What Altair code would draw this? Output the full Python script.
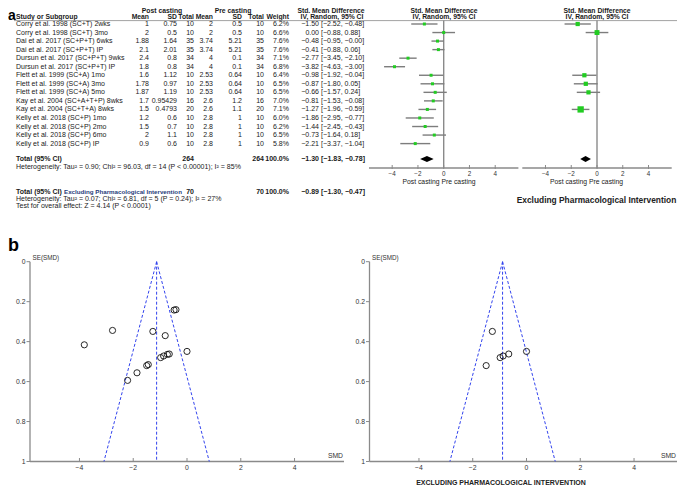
import altair as alt
import pandas as pd

# ---------------- data ----------------
studies = [
    "Corry et al. 1998 (SC+T) 2wks", "Corry et al. 1998 (SC+T) 3mo",
    "Dai et al. 2017 (SC+P+T) 6wks", "Dai et al. 2017 (SC+P+T) IP",
    "Dursun et al. 2017 (SC+P+T) 9wks", "Dursun et al. 2017 (SC+P+T) IP",
    "Flett et al. 1999 (SC+A) 1mo", "Flett et al. 1999 (SC+A) 3mo",
    "Flett et al. 1999 (SC+A) 5mo", "Kay et al. 2004 (SC+A+T+P) 8wks",
    "Kay et al. 2004 (SC+T+A) 8wks", "Kelly et al. 2018 (SC+P) 1mo",
    "Kelly et al. 2018 (SC+P) 2mo", "Kelly et al. 2018 (SC+P) 6mo",
    "Kelly et al. 2018 (SC+P) IP",
]
post_mean = [1, 2, 1.88, 2.1, 2.4, 1.8, 1.6, 1.78, 1.87, 1.7, 1.5, 1.2, 1.5, 2, 0.9]
post_sd = [0.75, 0.5, 1.64, 2.01, 0.8, 0.8, 1.12, 0.97, 1.19, 0.95429, 0.4793, 0.6, 0.7, 1.1, 0.6]
post_n = [10, 10, 35, 35, 34, 34, 10, 10, 10, 16, 20, 10, 10, 10, 10]
pre_mean = [2, 2, 3.74, 3.74, 4, 4, 2.53, 2.53, 2.53, 2.6, 2.6, 2.8, 2.8, 2.8, 2.8]
pre_sd = [0.5, 0.5, 5.21, 5.21, 0.1, 0.1, 0.64, 0.64, 0.64, 1.2, 1.1, 1, 1, 1, 1]
pre_n = [10, 10, 35, 35, 34, 34, 10, 10, 10, 16, 20, 10, 10, 10, 10]
weight = [6.2, 6.6, 7.6, 7.6, 7.1, 6.8, 6.4, 6.5, 6.5, 7.0, 7.1, 6.0, 6.2, 6.5, 5.8]
smd = [-1.50, 0.00, -0.48, -0.41, -2.77, -3.82, -0.98, -0.87, -0.66, -0.81, -1.27, -1.86, -1.44, -0.73, -2.21]
ci_lo = [-2.52, -0.88, -0.95, -0.88, -3.45, -4.63, -1.92, -1.80, -1.57, -1.53, -1.96, -2.95, -2.45, -1.64, -3.37]
ci_hi = [-0.48, 0.88, -0.00, 0.06, -2.10, -3.00, -0.04, 0.05, 0.24, -0.08, -0.59, -0.77, -0.43, 0.18, -1.04]
se_smd = [0.520, 0.449, 0.242, 0.240, 0.344, 0.416, 0.480, 0.472, 0.462, 0.370, 0.349, 0.556, 0.515, 0.464, 0.594]
no_pharm = [True, True, False, False, False, False, True, True, True, False, True, False, False, False, False]

total_n = [264, 70]
total_est = [-1.30, -0.89]
total_lo = [-1.83, -1.30]
total_hi = [-0.78, -0.47]
funnel_center = [-1.13, -0.89]   # pooled estimate used as funnel centre
axis_ticks = [-4, -2, 0, 2, 4]
se_ticks = [0, 0.2, 0.4, 0.6, 0.8, 1]

het_all = "Heterogeneity: Tau\u00b2 = 0.90; Chi\u00b2 = 96.03, df = 14 (P < 0.00001); I\u00b2 = 85%"
het_excl = "Heterogeneity: Tau\u00b2 = 0.07; Chi\u00b2 = 6.81, df = 5 (P = 0.24); I\u00b2 = 27%"
test_excl = "Test for overall effect: Z = 4.14 (P < 0.0001)"

# ---------------- layout / style ----------------
FONT = "Liberation Sans"
FS = 7.0
FSH = 6.8
TXT = "#1a1a1a"
GRAY = "#8a8a8a"
GREEN = "#22cc22"
BLUE = "#3344ee"


def px(x):
    return x - 8


def py(y):
    return y - 8


def m(v):
    return v.replace("-", "\u2212")


def fnum(v):
    return m(f"{v:g}")


def label(text, x, y, align="left", size=FS, bold=False, color=TXT, font=FONT):
    return alt.Chart(pd.DataFrame({"t": [text]})).mark_text(
        align=align, baseline="middle", font=font, fontSize=size,
        fontWeight="bold" if bold else "normal", color=color,
    ).encode(x=alt.value(px(x)), y=alt.value(py(y)), text="t:N")


ROW_TOP, ROW_BOT = 24.0, 143.6
ROW_SC = alt.Scale(domain=[0, 14], range=[py(ROW_TOP), py(ROW_BOT)])
ROW_STEP = (ROW_BOT - ROW_TOP) / 14
ROW_TOTAL = (159 - ROW_TOP) / ROW_STEP
ROW_EXCL = (192 - ROW_TOP) / ROW_STEP


def yrow(field="row"):
    return alt.Y(f"{field}:Q", scale=ROW_SC, axis=None)


tab = pd.DataFrame({
    "row": list(range(len(studies))),
    "study": studies,
    "pm": [fnum(v) for v in post_mean],
    "psd": [fnum(v) for v in post_sd],
    "pn": [str(v) for v in post_n],
    "qm": [fnum(v) for v in pre_mean],
    "qsd": [fnum(v) for v in pre_sd],
    "qn": [str(v) for v in pre_n],
    "w": [f"{v:.1f}%" for v in weight],
    "est": [m(f"{v:.2f}") for v in smd],
    "ci": [m(f"[{a:.2f}, {b:.2f}]") for a, b in zip(ci_lo, ci_hi)],
    "smd": smd, "lo": ci_lo, "hi": ci_hi, "se": se_smd, "excl": no_pharm,
})

tot = pd.DataFrame({
    "row": [ROW_TOTAL, ROW_EXCL],
    "n": [str(v) for v in total_n],
    "w": ["100.0%", "100.0%"],
    "est": [m(f"{v:.2f}") for v in total_est],
    "ci": [m(f"[{a:.2f}, {b:.2f}]") for a, b in zip(total_lo, total_hi)],
})


def col(data, field, x, align="right", bold=False):
    return alt.Chart(data).mark_text(
        align=align, baseline="middle", font=FONT, fontSize=FS,
        fontWeight="bold" if bold else "normal", color=TXT,
    ).encode(x=alt.value(px(x)), y=yrow(), text=f"{field}:N")


layers = []

# ---- panel labels ----
layers.append(label("a", 8, 15.5, size=14, bold=True, color="#000"))
layers.append(label("b", 8, 246, size=18, bold=True, color="#000"))

# ---- table header ----
H1, H2, HRULE = 11.2, 17.4, 20.6
EST_X, CI_X = 319, 321
layers += [
    label("Post casting", 162, H1, "center", size=FSH, bold=True),
    label("Pre casting", 233, H1, "center", size=FSH, bold=True),
    label("Std. Mean Difference", 331, H1, "center", size=FSH, bold=True),
    label("Std. Mean Difference", 444, H1, "center", size=FSH, bold=True),
    label("Std. Mean Difference", 597, H1, "center", size=FSH, bold=True),
    label("Study or Subgroup", 16, H2, size=FSH, bold=True),
    label("Mean", 149, H2, "right", size=FSH, bold=True),
    label("SD", 177, H2, "right", size=FSH, bold=True),
    label("Total", 194, H2, "right", size=FSH, bold=True),
    label("Mean", 213, H2, "right", size=FSH, bold=True),
    label("SD", 242, H2, "right", size=FSH, bold=True),
    label("Total", 264, H2, "right", size=FSH, bold=True),
    label("Weight", 289, H2, "right", size=FSH, bold=True),
    label("IV, Random, 95% CI", 332, H2, "center", size=FSH, bold=True),
    label("IV, Random, 95% CI", 444, H2, "center", size=FSH, bold=True),
    label("IV, Random, 95% CI", 597, H2, "center", size=FSH, bold=True),
]
layers.append(
    alt.Chart(pd.DataFrame({"a": [0]})).mark_rule(color=GRAY, strokeWidth=0.8).encode(
        x=alt.value(px(14)), x2=alt.value(px(690)), y=alt.value(py(HRULE)))
)

# ---- table body ----
layers += [
    col(tab, "study", 16, "left"),
    col(tab, "pm", 149), col(tab, "psd", 177), col(tab, "pn", 194),
    col(tab, "qm", 213), col(tab, "qsd", 242), col(tab, "qn", 264),
    col(tab, "w", 289), col(tab, "est", EST_X), col(tab, "ci", CI_X, "left"),
]

# ---- totals ----
tot_all = tot.iloc[[0]]
tot_ex = tot.iloc[[1]]
layers += [
    label("Total (95% CI)", 16, 159, bold=True),
    col(tot_all, "n", 194, bold=True), col(tot, "n", 264, bold=True),
    col(tot, "w", 289, bold=True), col(tot, "est", EST_X, bold=True),
    col(tot, "ci", CI_X, "left", bold=True),
    label(het_all, 16, 166.5),
    label("Total (95% CI)", 16, 192, bold=True),
    label("Excluding Pharmacological Intervention", 64, 192, bold=True,
          color="#1f3c7a", size=6.2),
    col(tot_ex, "n", 194, bold=True),
    label(het_excl, 16, 199),
    label(test_excl, 16, 205.5),
]

# ---- forest plots ----
F1 = alt.Scale(domain=[-5.8, 5.8], range=[px(369), px(518.4)])
F2 = alt.Scale(domain=[-5.8, 5.8], range=[px(522.3), px(671.7)])
AXY = 168
EXCL_MARK = {0: 18, 1: 24, 6: 18, 7: 18, 8: 18, 10: 40}


def forest(scale, data, est, lo, hi, msize, post_x, pre_x):
    out = []
    dom = pd.DataFrame({"a": [-5.8], "b": [5.8], "z": [0]})
    out.append(alt.Chart(dom).mark_rule(color=GRAY, strokeWidth=1.4).encode(
        x=alt.X("z:Q", scale=scale, axis=None), y=alt.value(py(HRULE)), y2=alt.value(py(AXY))))
    out.append(alt.Chart(dom).mark_rule(color=GRAY, strokeWidth=1.3).encode(
        x=alt.X("a:Q", scale=scale, axis=None), x2="b:Q", y=alt.value(py(AXY))))
    tk = pd.DataFrame({"v": axis_ticks, "t": [m(str(v)) for v in axis_ticks]})
    out.append(alt.Chart(tk).mark_rule(color=GRAY, strokeWidth=1).encode(
        x=alt.X("v:Q", scale=scale, axis=None), y=alt.value(py(AXY - 3)), y2=alt.value(py(AXY + 1))))
    out.append(alt.Chart(tk).mark_text(font=FONT, fontSize=6.3, color="#333", baseline="middle").encode(
        x=alt.X("v:Q", scale=scale, axis=None), y=alt.value(py(173.5)), text="t:N"))
    out.append(label("Post casting", post_x, 181.5, "right", size=6.8))
    out.append(label("Pre casting", pre_x, 181.5, "left", size=6.8))
    out.append(alt.Chart(data).mark_rule(color="#7d7d7d", strokeWidth=1.4).encode(
        x=alt.X("lo:Q", scale=scale, axis=None), x2="hi:Q", y=yrow()))
    if msize is None:
        out.append(alt.Chart(data).mark_square(color=GREEN, size=9, opacity=1).encode(
            x=alt.X("smd:Q", scale=scale, axis=None), y=yrow()))
    else:
        out.append(alt.Chart(data).mark_square(color=GREEN, opacity=1).encode(
            x=alt.X("smd:Q", scale=scale, axis=None), y=yrow(),
            size=alt.Size("msz:Q", scale=None, legend=None)))
    dh = 0.34
    dia = pd.DataFrame({"x": [lo, est, hi], "y": [ROW_TOTAL, ROW_TOTAL - dh, ROW_TOTAL],
                        "y2": [ROW_TOTAL, ROW_TOTAL + dh, ROW_TOTAL]})
    out.append(alt.Chart(dia).mark_area(color="#000").encode(
        x=alt.X("x:Q", scale=scale, axis=None), y=yrow("y"), y2="y2:Q"))
    return out


layers += forest(F1, tab, total_est[0], total_lo[0], total_hi[0], None, 439.5, 441.5)
ex = tab[tab["excl"]].copy()
ex["msz"] = [EXCL_MARK[i] for i in ex["row"]]
layers += forest(F2, ex, total_est[1], total_lo[1], total_hi[1], True, 587, 589)
layers.append(label("Excluding Pharmacological Intervention", 596.5, 200, "center",
                    size=8.4, bold=True, color="#222"))

# ---- funnel plots ----
S = alt.Scale(domain=[0, 1], range=[py(261.7), py(461.5)])


def funnel(xscale, yaxis_x, data, center, smd_x):
    out = []
    ax = pd.DataFrame({"a": [-5.84], "b": [5.84], "s0": [0], "s1": [1]})
    out.append(alt.Chart(ax).mark_rule(color=GRAY, strokeWidth=1.3).encode(
        x=alt.value(px(yaxis_x)), y=alt.Y("s0:Q", scale=S, axis=None), y2="s1:Q"))
    out.append(alt.Chart(ax).mark_rule(color=GRAY, strokeWidth=1.3).encode(
        x=alt.X("a:Q", scale=xscale, axis=None), x2="b:Q", y=alt.value(py(461.5))))
    st = pd.DataFrame({"v": se_ticks, "t": [f"{v:g}" for v in se_ticks]})
    out.append(alt.Chart(st).mark_rule(color=GRAY, strokeWidth=1).encode(
        x=alt.value(px(yaxis_x - 3.5)), x2=alt.value(px(yaxis_x)), y=alt.Y("v:Q", scale=S, axis=None)))
    out.append(alt.Chart(st).mark_text(font=FONT, fontSize=6.8, color="#333", align="right", baseline="middle").encode(
        x=alt.value(px(yaxis_x - 4.5)), y=alt.Y("v:Q", scale=S, axis=None), text="t:N"))
    tk = pd.DataFrame({"v": axis_ticks, "t": [m(str(v)) for v in axis_ticks]})
    out.append(alt.Chart(tk).mark_rule(color=GRAY, strokeWidth=1).encode(
        x=alt.X("v:Q", scale=xscale, axis=None), y=alt.value(py(458)), y2=alt.value(py(462))))
    out.append(alt.Chart(tk).mark_text(font=FONT, fontSize=6.8, color="#333", baseline="middle").encode(
        x=alt.X("v:Q", scale=xscale, axis=None), y=alt.value(py(468)), text="t:N"))
    out.append(label("SE(SMD)", yaxis_x + 2.5, 258, size=6.3, color="#333"))
    out.append(label("SMD", smd_x, 455.5, "right", size=6.8, color="#333"))
    fl = pd.DataFrame({"x": [center, center, center], "y": [0, 0, 0],
                       "x2": [center, center - 1.96, center + 1.96], "y2": [1, 1, 1]})
    out.append(alt.Chart(fl).mark_rule(color=BLUE, strokeWidth=1, strokeDash=[3, 2]).encode(
        x=alt.X("x:Q", scale=xscale, axis=None), x2="x2:Q",
        y=alt.Y("y:Q", scale=S, axis=None), y2="y2:Q"))
    out.append(alt.Chart(data).mark_point(shape="circle", filled=False, color="#111", size=38, strokeWidth=0.9, opacity=1).encode(
        x=alt.X("smd:Q", scale=xscale, axis=None), y=alt.Y("se:Q", scale=S, axis=None)))
    return out


G1 = alt.Scale(domain=[-5.84, 5.84], range=[px(30), px(344)])
G2 = alt.Scale(domain=[-5.84, 5.84], range=[px(369.5), px(683.5)])
layers += funnel(G1, 30, tab, funnel_center[0], 343)
layers += funnel(G2, 369.5, ex, funnel_center[1], 676)
layers.append(label("EXCLUDING PHARMACOLOGICAL INTERVENTION", 501, 482.5, "center", size=7, bold=True, color="#222"))

chart = alt.layer(*layers).resolve_scale(
    x="independent", y="independent", size="independent"
).properties(
    width=669, height=478, padding=0, autosize=alt.AutoSizeParams(type="none")
).configure_view(stroke=None)

chart.save("out.html", embed_options={"renderer": "svg", "actions": False})
